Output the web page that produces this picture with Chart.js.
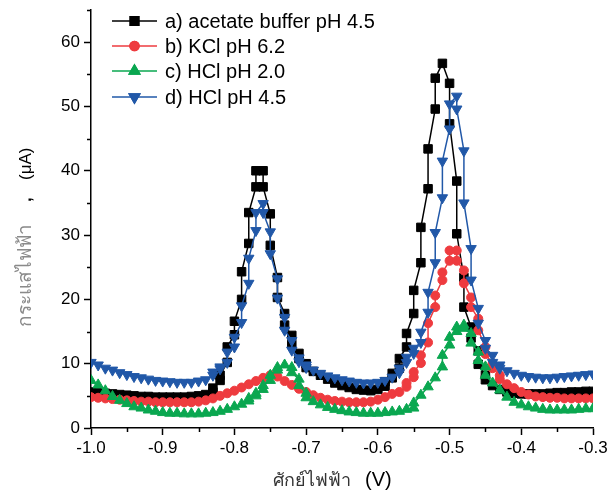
<!DOCTYPE html>
<html>
<head>
<meta charset="utf-8">
<script src="https://cdn.jsdelivr.net/npm/chart.js@4.4.1/dist/chart.umd.min.js"></script>
<style>
  html, body { margin: 0; padding: 0; background: #fff; }
  #wrap { width: 608px; height: 493px; }
</style>
</head>
<body>
<div id="wrap"><canvas id="chart" width="608" height="493"></canvas></div>
<script>
// DPV curves, potential read in 0.01 V steps.
// A pair [a, b] = two readings logged at the same (rounded) potential.
const potential = [
  -1.00, -0.99, -0.98, -0.97, -0.96, -0.95, -0.94, -0.93, -0.92, -0.91,
  -0.90, -0.89, -0.88, -0.87, -0.86, -0.85, -0.84, -0.83, -0.82, -0.81,
  -0.80, -0.79, -0.78, -0.77, -0.76, -0.75, -0.74, -0.73, -0.72, -0.71,
  -0.70, -0.69, -0.68, -0.67, -0.66, -0.65, -0.64, -0.63, -0.62, -0.61,
  -0.60, -0.59, -0.58, -0.57, -0.56, -0.55, -0.54, -0.53, -0.52, -0.51,
  -0.50, -0.49, -0.48, -0.47, -0.46, -0.45, -0.44, -0.43, -0.42, -0.41,
  -0.40, -0.39, -0.38, -0.37, -0.36, -0.35, -0.34, -0.33, -0.32, -0.31,
  -0.30
];

const acetate45 = [
  5.6, 5.5, 5.4, 5.3, 5.2, 5.1, 5.0, 4.9, 4.9, 4.8,
  4.8, 4.8, 4.8, 4.8, 4.9, 5.0, 5.2, [5.6, 6.2], [7.4, 8.2], [10.2, 12.6],
  [14.5, 16.6], [20.0, 24.3], [28.7, 33.5], [37.5, 40.0], [40.0, 37.5], [33.3, 28.4], [23.4, 20.3], [17.8, 16.0], [14.4, 13.0], [11.6, 10.8],
  [10.0, 9.4], 8.8, 8.2, 7.6, 7.0, 6.6, 6.3, 6.0, 5.9, 5.8,
  6.0, [6.5, 7.2], [7.8, 8.5], [9.3, 10.8], [12.6, 14.7], [17.8, 21.4], [25.7, 31.2], [37.2, 43.4], [49.6, 54.4], 56.7,
  [53.6, 47.3], [38.4, 30.2], [23.4, 18.8], [15.7, 14.0], [12.0, 9.9], [8.2, 7.5], 6.6, 6.0, 5.6, 5.4,
  5.3, 5.3, 5.3, 5.3, 5.4, 5.5, 5.5, 5.6, 5.6, 5.7,
  5.7
];

const kcl62 = [
  4.8, 4.7, 4.6, 4.5, 4.4, 4.3, 4.2, 4.1, 4.1, 4.0,
  4.0, 4.0, 4.0, 4.0, 4.0, 4.1, 4.3, 4.6, 5.0, 5.4,
  5.8, 6.3, 6.8, 7.3, 7.8, 8.2, 8.0, 7.3, 6.7, 6.1,
  5.6, 5.1, 4.7, 4.4, 4.2, 4.1, 4.0, 4.0, 4.0, 4.1,
  4.4, 4.8, 5.3, 5.6, [6.4, 7.0], [7.9, 8.7], [10.1, 11.3], [13.3, 16.3], [18.8, 20.6], [23.0, 24.2],
  [26.0, 27.6], [27.6, 26.0], [24.5, 22.5], [20.3, 18.8], [17.0, 15.2], [12.6, 11.5], [10.0, 9.3], [8.2, 7.6], 6.8, 6.2,
  5.6, 5.2, 4.9, 4.8, 4.7, 4.7, 4.6, 4.6, 4.6, 4.6,
  4.6
];

const hcl20 = [
  7.4, 6.7, 5.8, 4.9, 4.3, 3.8, 3.3, 3.1, 2.8, 2.6,
  2.4, 2.3, 2.3, 2.2, 2.2, 2.2, 2.3, 2.4, 2.6, 2.9,
  3.3, 3.7, [4.2, 4.6], [5.0, 5.4], [6.0, 6.6], [7.4, 8.2], [9.0, 9.4], 9.8, [9.4, 8.6], [7.6, 6.6],
  [5.4, 4.7], 4.1, 3.6, 3.2, 2.9, 2.7, 2.5, 2.4, 2.3, 2.3,
  2.3, 2.4, 2.5, 2.6, 2.9, [3.1, 3.9], 5.1, 6.4, 7.8, [9.5, 11.3],
  [12.9, 14.1], [15.0, 15.7], [16.0, 15.5], [14.7, 13.2], [11.8, 10.5], [9.5, 8.2], 7.0, 5.9, 4.8, 4.0,
  3.6, 3.3, 3.1, 2.9, 2.8, 2.8, 2.8, 2.8, 2.9, 3.0,
  3.0
];

const hcl45 = [
  10.2, 9.8, 9.3, 9.0, 8.6, 8.3, 8.0, 7.8, 7.6, 7.4,
  7.3, 7.2, 7.1, 7.1, 7.1, 7.3, 7.5, [8.2, 8.7], [9.2, 9.5], [10.2, 11.8],
  [12.6, 14.1], [16.4, 19.0], [22.5, 26.4], [30.7, 33.5], [34.9, 33.5], [30.5, 27.1], [23.2, 20.2], [17.2, 15.2], [13.6, 12.1], [10.9, 10.3],
  [9.8, 9.4], 9.0, 8.5, 8.1, 7.8, 7.5, 7.3, 7.1, 7.0, 7.0,
  7.1, 7.4, 7.9, [8.6, 9.3], [10.2, 11.0], [11.6, 12.4], [13.3, 14.9], [18.0, 21.1], [25.7, 30.4], [35.8, 41.5],
  [46.5, 50.4], [51.6, 49.6], [43.1, 35.0], [27.9, 23.0], [18.6, 16.3], [13.6, 12.4], [11.3, 10.2], [9.8, 9.3], 8.9, 8.5,
  8.2, 8.0, 7.9, 7.8, 7.8, 7.9, 8.0, 8.1, 8.2, 8.3,
  8.4
];

const seriesLabels = ['a) acetate buffer pH 4.5', 'b) KCl pH 6.2', 'c) HCl pH 2.0', 'd) HCl pH 4.5'];
const xTicksMinor = [-0.95, -0.85, -0.75, -0.65, -0.55, -0.45, -0.35];
const yTicksMinor = [5, 15, 25, 35, 45, 55, 65];

function toPoints(values) {
  const pts = [];
  values.forEach((v, i) => {
    [].concat(v).forEach(y => pts.push({ x: potential[i], y: y }));
  });
  return pts;
}

const FONT = '"Liberation Sans", Arial, sans-serif';

// legend (line + marker), axis titles and minor ticks
const decorations = {
  id: 'decorations',
  afterDraw(chart) {
    const ctx = chart.ctx;
    const xs = chart.scales.x, ys = chart.scales.y;
    ctx.save();

    ctx.strokeStyle = '#000';
    ctx.lineWidth = 1.5;
    ctx.beginPath();
    xTicksMinor.forEach(v => {
      const px = Math.round(xs.getPixelForValue(v)) + 0.5;
      ctx.moveTo(px, chart.chartArea.bottom);
      ctx.lineTo(px, chart.chartArea.bottom + 4);
    });
    yTicksMinor.forEach(v => {
      const py = Math.round(ys.getPixelForValue(v)) + 0.5;
      ctx.moveTo(chart.chartArea.left, py);
      ctx.lineTo(chart.chartArea.left - 4, py);
    });
    ctx.stroke();

    // legend
    const rows = [21, 46, 71, 97];
    chart.data.datasets.forEach((ds, i) => {
      const y = rows[i];
      ctx.strokeStyle = ds.borderColor;
      ctx.lineWidth = 1.5;
      ctx.beginPath();
      ctx.moveTo(112, y);
      ctx.lineTo(157, y);
      ctx.stroke();
      Chart.helpers.drawPoint(ctx, {
        pointStyle: ds.pointStyle,
        radius: ds.pointRadius,
        rotation: ds.pointRotation || 0,
        borderWidth: 1
      }, 134.5, y);
      ctx.fillStyle = ds.backgroundColor;
      ctx.strokeStyle = ds.borderColor;
      ctx.fill();
      ctx.stroke();
      ctx.fillStyle = '#000';
      ctx.font = '20px ' + FONT;
      ctx.textBaseline = 'middle';
      ctx.textAlign = 'left';
      ctx.fillText(ds.label, 165, y + 1);
    });

    // x title
    ctx.textBaseline = 'alphabetic';
    ctx.font = '18px ' + FONT;
    ctx.fillStyle = '#333';
    ctx.fillText('ศักย์ไฟฟ้า', 273, 486);
    ctx.font = '20px ' + FONT;
    ctx.fillStyle = '#000';
    ctx.fillText('(V)', 365, 486);

    // y title (rotated)
    ctx.translate(31, 0);
    ctx.rotate(-Math.PI / 2);
    ctx.font = '19px ' + FONT;
    ctx.fillStyle = '#8a8a8a';
    ctx.fillText('กระแสไฟฟ้า', -327, 0);
    ctx.font = 'bold 17px ' + FONT;
    ctx.fillStyle = '#000';
    ctx.fillText(',', -202, 0);
    ctx.font = '17px ' + FONT;
    ctx.fillText('(μA)', -180, 0);

    ctx.restore();
  }
};

function makeSet(label, values, color, style, radius, rotation, order) {
  return {
    label: label,
    data: toPoints(values),
    borderColor: color,
    backgroundColor: color,
    borderWidth: 1.5,
    pointStyle: style,
    pointRadius: radius,
    pointRotation: rotation,
    pointBorderWidth: 1,
    pointHoverRadius: radius,
    tension: 0,
    order: order
  };
}

new Chart(document.getElementById('chart'), {
  type: 'line',
  data: {
    datasets: [
      makeSet(seriesLabels[0], acetate45, '#000000', 'rect', 6.0, 0, 3),
      makeSet(seriesLabels[1], kcl62, '#EE3B3F', 'circle', 4.5, 0, 2),
      makeSet(seriesLabels[2], hcl20, '#0AA750', 'triangle', 6.0, 0, 1),
      makeSet(seriesLabels[3], hcl45, '#2158A8', 'triangle', 6.0, 180, 0)
    ]
  },
  options: {
    responsive: false,
    animation: false,
    layout: { padding: { left: 0, right: 15, top: 10, bottom: 0 } },
    plugins: {
      legend: { display: false },
      tooltip: { enabled: false }
    },
    scales: {
      x: {
        type: 'linear',
        min: -1.0,
        max: -0.3,
        border: { display: true, color: '#000', width: 1.5 },
        grid: { drawOnChartArea: false, tickLength: 7, tickWidth: 1.5, tickColor: '#000' },
        ticks: {
          stepSize: 0.1,
          color: '#000',
          padding: 3,
          font: { family: FONT, size: 17 },
          maxRotation: 0,
          callback: v => v.toFixed(1)
        },
        afterFit(scale) {
          scale.height = 65;
          scale.paddingLeft = 0;
          scale.paddingRight = 0;
        }
      },
      y: {
        min: 0,
        max: 65,
        border: { display: true, color: '#000', width: 1.5 },
        grid: {
          drawOnChartArea: false,
          tickLength: 7,
          tickWidth: 1.5,
          tickColor: c => (c.tick && c.tick.value % 10 === 0) ? '#000' : 'rgba(0,0,0,0)'
        },
        ticks: {
          stepSize: 10,
          color: '#000',
          padding: 4,
          font: { family: FONT, size: 17 },
          callback: v => (v % 10 === 0 ? v : '')
        },
        afterFit(scale) {
          scale.width = 91;
          scale.paddingTop = 0;
          scale.paddingBottom = 0;
        }
      }
    }
  },
  plugins: [decorations]
});
</script>
</body>
</html>
